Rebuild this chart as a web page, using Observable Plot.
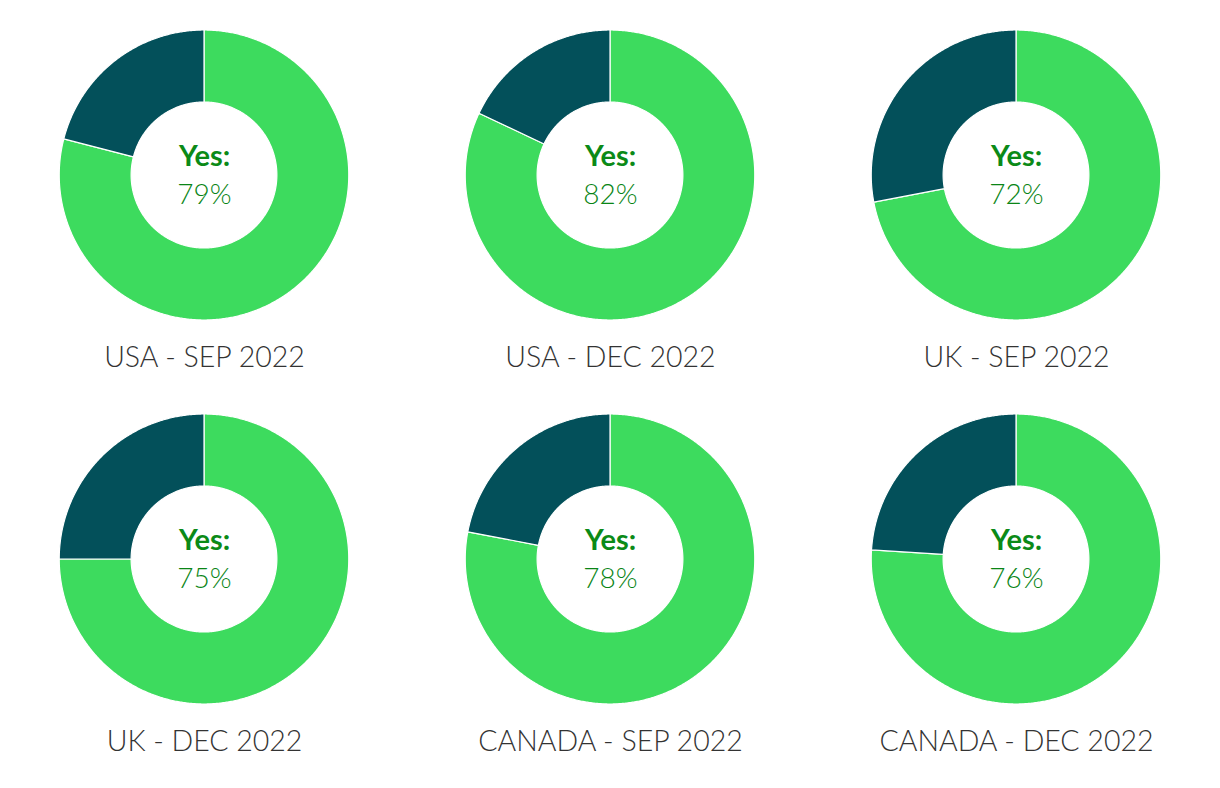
<!DOCTYPE html>
<html>
<head>
<meta charset="utf-8">
<script src="https://cdn.jsdelivr.net/npm/d3@7"></script>
<script src="https://cdn.jsdelivr.net/npm/@observablehq/plot@0.6"></script>
<style>
  html, body { margin: 0; padding: 0; background: #fff; }
  #chart svg { display: block; overflow: visible; }
</style>
</head>
<body>
<div id="chart"></div>
<script>
// ---- Data ----
const chartTitles = ["USA - SEP 2022", "USA - DEC 2022", "UK - SEP 2022",
                     "UK - DEC 2022", "CANADA - SEP 2022", "CANADA - DEC 2022"];
const yesPercent = [79, 82, 72, 75, 78, 76];
const sliceNames = ["Yes", "No"];
const sliceColors = ["#3ddb5e", "#03505a"];

// ---- Layout constants ----
const W = 1220, H = 788;
const OUTER = 145, INNER = 73;
const COLS = 3;

const charts = chartTitles.map((title, i) => ({
  title, yes: yesPercent[i], col: i % COLS, row: Math.floor(i / COLS)
}));

// Build annular-sector outlines (angle 0 at 12 o'clock, clockwise)
const arcPts = [];
for (const c of charts) {
  const slices = [
    {name: sliceNames[0], a0: 0, a1: c.yes},
    {name: sliceNames[1], a0: c.yes, a1: 100}
  ];
  for (const s of slices) {
    const n = Math.max(2, Math.ceil((s.a1 - s.a0) * 8));
    for (let k = 0; k <= n; k++) {
      const t = (s.a0 + (s.a1 - s.a0) * k / n) / 100 * 2 * Math.PI;
      arcPts.push({
        key: c.title + s.name, slice: s.name, col: c.col, row: c.row,
        xi: Math.sin(t) * INNER, yi: Math.cos(t) * INNER,
        xo: Math.sin(t) * OUTER, yo: Math.cos(t) * OUTER
      });
    }
  }
}

const facetW = W / COLS;
const facetH = (H - 20) / 2;
const cy = 175;

const plot = Plot.plot({
  width: W,
  height: H,
  marginLeft: 0, marginRight: 0, marginTop: 0, marginBottom: 20,
  fx: {domain: [0, 1, 2], padding: 0, axis: null},
  fy: {domain: [0, 1], padding: 0, axis: null},
  x: {domain: [-facetW / 2, facetW / 2], axis: null},
  y: {domain: [-(facetH - cy), cy], axis: null},
  color: {domain: sliceNames, range: sliceColors},
  style: {fontFamily: "Lato, 'Open Sans', sans-serif", background: "#fff"},
  marks: [
    Plot.area(arcPts, {
      x1: "xi", y1: "yi", x2: "xo", y2: "yo", z: "key",
      fill: "slice", fx: "col", fy: "row",
      stroke: "#fff", strokeWidth: 1.2
    }),
    Plot.text(charts, {
      x: () => 0, y: () => 0, fx: "col", fy: "row",
      text: () => "Yes:", dy: -19, fontSize: 29, fontWeight: 700,
      fill: "#0b8a17", textAnchor: "middle", lineAnchor: "middle",
      letterSpacing: "1.5px"
    }),
    Plot.text(charts, {
      x: () => 0, y: () => 0, fx: "col", fy: "row",
      text: d => d.yes + "%", dy: 20, fontSize: 28, fontWeight: 300,
      fill: "#0a8516", textAnchor: "middle", lineAnchor: "middle"
    }),
    Plot.text(charts, {
      x: () => 0, y: () => 0, fx: "col", fy: "row",
      text: "title", dy: 182, fontSize: 28.5, fontWeight: 300,
      fill: "#333", textAnchor: "middle", lineAnchor: "middle"
    })
  ]
});
document.getElementById("chart").appendChild(plot);
</script>
</body>
</html>
